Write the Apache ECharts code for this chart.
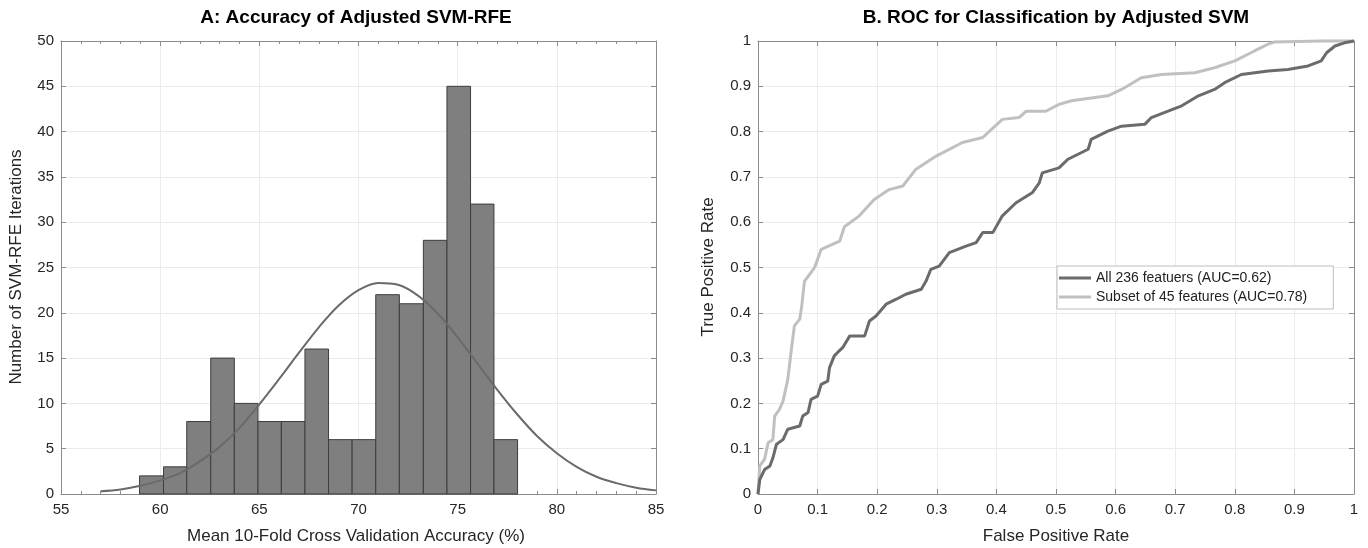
<!DOCTYPE html>
<html>
<head>
<meta charset="utf-8">
<script src="https://cdn.jsdelivr.net/npm/echarts@6/dist/echarts.min.js"></script>
<style>
  html, body { margin: 0; padding: 0; background: #fff; }
  #chart { width: 1368px; height: 548px; }
</style>
</head>
<body>
<div id="chart"></div>
<script>
// A: histogram of mean CV accuracy (bin edges)
const binEdges = [58.96, 60.17, 61.34, 62.55, 63.74, 64.93, 66.11, 67.30, 68.49,
  69.68, 70.87, 72.06, 73.27, 74.46, 75.65, 76.83, 78.02];
const binCounts = [2, 3, 8, 15, 10, 8, 8, 16, 6, 6, 22, 21, 28, 45, 32, 6];
// fitted normal curve, read at whole percent steps
const fitX = [57, 58, 59, 60, 61, 62, 63, 64, 65, 66, 67, 68, 69, 70, 71,
  72, 73, 74, 75, 76, 77, 78, 79, 80, 81, 82, 83, 84, 85];
const fitY = [0.3, 0.5, 0.9, 1.5, 2.3, 3.6, 5.2, 7.3, 9.9, 12.7, 15.6, 18.4, 20.8, 22.5, 23.3,
  23.1, 21.9, 19.9, 17.3, 14.4, 11.5, 8.8, 6.4, 4.5, 3.0, 1.9, 1.2, 0.7, 0.4];

// B: ROC curves
const fprAll = [0, 0.003, 0.011, 0.02, 0.025, 0.031, 0.042, 0.05, 0.07, 0.075,
  0.084, 0.089, 0.1, 0.106, 0.117, 0.12, 0.128, 0.134, 0.142, 0.154,
  0.179, 0.187, 0.198, 0.215, 0.232, 0.248, 0.274, 0.282, 0.29, 0.304,
  0.321, 0.349, 0.366, 0.377, 0.394, 0.41, 0.433, 0.46, 0.472, 0.477,
  0.505, 0.52, 0.554, 0.559, 0.587, 0.61, 0.649, 0.66, 0.688, 0.711,
  0.739, 0.766, 0.783, 0.811, 0.856, 0.889, 0.923, 0.945, 0.954, 0.968,
  0.984, 1.0];
const tprAll = [0, 0.032, 0.054, 0.062, 0.08, 0.11, 0.12, 0.143, 0.15, 0.172,
  0.18, 0.209, 0.216, 0.242, 0.249, 0.279, 0.305, 0.313, 0.323, 0.349,
  0.349, 0.382, 0.393, 0.419, 0.43, 0.441, 0.452, 0.47, 0.496, 0.503,
  0.533, 0.547, 0.555, 0.577, 0.577, 0.614, 0.643, 0.665, 0.687, 0.709,
  0.72, 0.739, 0.761, 0.783, 0.801, 0.812, 0.816, 0.831, 0.845, 0.857,
  0.879, 0.893, 0.908, 0.926, 0.934, 0.937, 0.945, 0.956, 0.974, 0.989,
  0.996, 1.0];
const fprSub = [0, 0.003, 0.011, 0.017, 0.025, 0.028, 0.036, 0.042, 0.05, 0.056,
  0.061, 0.07, 0.073, 0.078, 0.089, 0.095, 0.106, 0.137, 0.145, 0.17,
  0.195, 0.22, 0.243, 0.265, 0.299, 0.343, 0.377, 0.41, 0.438, 0.45,
  0.483, 0.505, 0.526, 0.587, 0.61, 0.643, 0.677, 0.733, 0.766, 0.8,
  0.833, 0.856, 0.867, 0.945, 1.0];
const tprSub = [0, 0.062, 0.077, 0.113, 0.12, 0.172, 0.187, 0.205, 0.253, 0.319,
  0.371, 0.386, 0.411, 0.47, 0.489, 0.5, 0.54, 0.558, 0.59, 0.614,
  0.65, 0.672, 0.68, 0.717, 0.746, 0.776, 0.787, 0.827, 0.831, 0.845,
  0.845, 0.86, 0.868, 0.879, 0.893, 0.919, 0.926, 0.93, 0.941, 0.956,
  0.978, 0.993, 0.998, 1.0, 1.0];
const rocNames = ['All 236 featuers (AUC=0.62)', 'Subset of 45 features (AUC=0.78)'];

const FONT = '"Liberation Sans", Arial, Helvetica, sans-serif';
const AXIS_COLOR = '#8c8c8c';
const GRID_COLOR = '#ebebeb';

function zip(xs, ys) {
  return xs.map((x, i) => [x, ys[i]]);
}

// one box-style axis pair (MATLAB "box on": ticks on all four sides)
function xAxes(gridIndex, min, max, interval, minor) {
  const base = {
    type: 'value', gridIndex: gridIndex, min: min, max: max, interval: interval,
    axisLine: { show: true, onZero: false, lineStyle: { color: AXIS_COLOR, width: 1 } },
    axisTick: { show: true, inside: true, length: 5, lineStyle: { color: AXIS_COLOR } },
    minorTick: { show: minor, splitNumber: 5, length: 3, lineStyle: { color: AXIS_COLOR } },
  };
  return [
    Object.assign({}, base, {
      position: 'bottom',
      axisLabel: { color: '#262626', fontSize: 15, fontFamily: FONT, margin: 8 },
      splitLine: { show: true, lineStyle: { color: GRID_COLOR } },
    }),
    Object.assign({}, base, {
      position: 'top',
      axisLabel: { show: false },
      splitLine: { show: false },
    }),
  ];
}

function yAxes(gridIndex, min, max, interval) {
  const base = {
    type: 'value', gridIndex: gridIndex, min: min, max: max, interval: interval,
    axisLine: { show: true, onZero: false, lineStyle: { color: AXIS_COLOR, width: 1 } },
    axisTick: { show: true, inside: true, length: 5, lineStyle: { color: AXIS_COLOR } },
  };
  return [
    Object.assign({}, base, {
      position: 'left',
      axisLabel: { color: '#262626', fontSize: 15, fontFamily: FONT, margin: 7 },
      splitLine: { show: true, lineStyle: { color: GRID_COLOR } },
    }),
    Object.assign({}, base, {
      position: 'right',
      axisLabel: { show: false },
      splitLine: { show: false },
    }),
  ];
}

function label(text, x, y, opts) {
  return {
    type: 'text', x: x, y: y, rotation: opts.rotate ? Math.PI / 2 : 0, z: 100,
    style: {
      text: text, x: 0, y: 0, textAlign: 'center', textVerticalAlign: 'middle',
      font: (opts.bold ? 'bold ' : '') + opts.size + 'px ' + FONT,
      fill: opts.bold ? '#000' : '#262626',
    },
  };
}

const chart = echarts.init(document.getElementById('chart'));

const histData = binCounts.map((c, i) => [binEdges[i], binEdges[i + 1], c]);

const option = {
  animation: false,
  backgroundColor: '#fff',
  grid: [
    { left: 61, right: 712, top: 41, bottom: 54 },
    { left: 758, right: 14, top: 41, bottom: 54 },
  ],
  xAxis: xAxes(0, 55, 85, 5, true).concat(xAxes(1, 0, 1, 0.1, false)),
  yAxis: yAxes(0, 0, 50, 5).concat(yAxes(1, 0, 1, 0.1)),
  legend: {
    data: rocNames,
    left: 1057, top: 266,
    orient: 'vertical',
    icon: 'rect',
    itemWidth: 32, itemHeight: 3, itemGap: 5,
    padding: [5, 26, 5, 2],
    borderColor: '#bdbdbd', borderWidth: 1,
    backgroundColor: '#fff',
    textStyle: { fontSize: 14, fontFamily: FONT, color: '#222' },
  },
  graphic: [
    label('A: Accuracy of Adjusted SVM-RFE', 356, 18, { bold: true, size: 19 }),
    label('B. ROC for Classification by Adjusted SVM', 1056, 18, { bold: true, size: 19 }),
    label('Mean 10-Fold Cross Validation Accuracy (%)', 356, 536, { size: 17 }),
    label('False Positive Rate', 1056, 536, { size: 17 }),
    label('Number of SVM-RFE Iterations', 16, 267, { size: 17, rotate: true }),
    label('True Positive Rate', 708, 267, { size: 17, rotate: true }),
  ],
  series: [
    {
      type: 'custom',
      xAxisIndex: 0, yAxisIndex: 0,
      data: histData,
      encode: { x: [0, 1], y: 2 },
      renderItem: function (params, api) {
        const p0 = api.coord([api.value(0), 0]);
        const p1 = api.coord([api.value(1), api.value(2)]);
        return {
          type: 'rect',
          shape: { x: p0[0], y: p1[1], width: p1[0] - p0[0], height: p0[1] - p1[1] },
          style: { fill: '#7f7f7f', stroke: '#3d3d3d', lineWidth: 1 },
        };
      },
      z: 2,
    },
    {
      type: 'line',
      xAxisIndex: 0, yAxisIndex: 0,
      data: zip(fitX, fitY),
      smooth: 0.35,
      symbol: 'none',
      lineStyle: { color: '#6a6a6a', width: 2 },
      z: 3,
    },
    {
      name: rocNames[0],
      type: 'line',
      xAxisIndex: 2, yAxisIndex: 2,
      data: zip(fprAll, tprAll),
      symbol: 'none',
      clip: false,
      color: '#6b6b6b',
      lineStyle: { color: '#6b6b6b', width: 3 },
      z: 3,
    },
    {
      name: rocNames[1],
      type: 'line',
      xAxisIndex: 2, yAxisIndex: 2,
      data: zip(fprSub, tprSub),
      symbol: 'none',
      clip: false,
      color: '#c0c0c0',
      lineStyle: { color: '#c0c0c0', width: 3 },
      z: 2,
    },
  ],
};

chart.setOption(option);
</script>
</body>
</html>
